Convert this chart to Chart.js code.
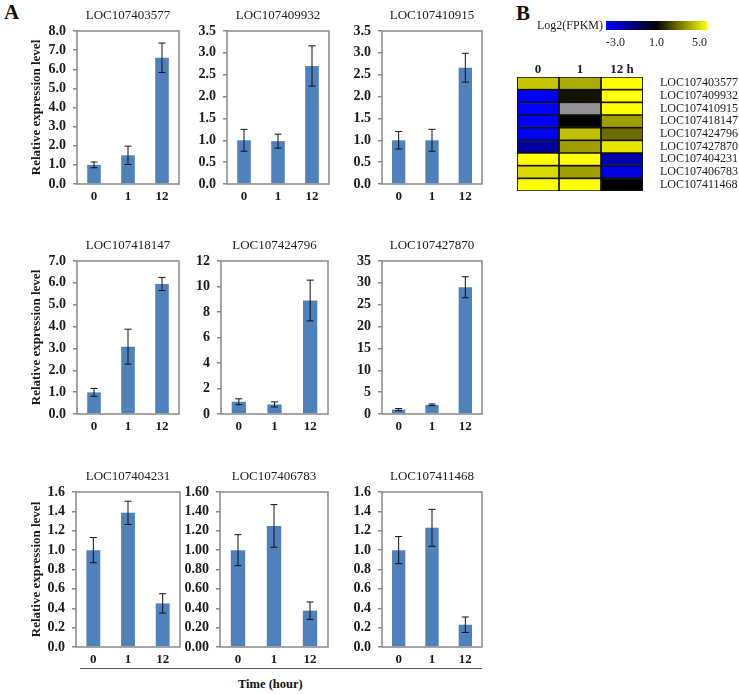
<!DOCTYPE html>
<html><head><meta charset="utf-8">
<script src="https://cdn.jsdelivr.net/npm/chart.js@4.4.0/dist/chart.umd.min.js"></script>
<style>
body{margin:0;background:#fff;width:739px;height:694px;position:relative;overflow:hidden;font-family:'Liberation Serif',serif}
canvas{position:absolute}
.lbl{position:absolute;font-family:'Liberation Serif',serif;color:#111;white-space:nowrap}
</style></head><body>
<div class="lbl" style="left:4px;top:0px;font-size:21px;font-weight:bold">A</div>
<div class="lbl" style="left:516px;top:1px;font-size:21px;font-weight:bold">B</div>
<div style="position:absolute;left:80px;top:668px;width:402px;height:0;border-top:1.5px solid #555"></div>
<div class="lbl" style="left:238px;top:677px;font-size:12.5px;font-weight:bold">Time (hour)</div>
<script>
// ---------------- DATA ----------------
const timeLabels = ['0', '1', '12'];
const geneNames = ['LOC107403577','LOC107409932','LOC107410915','LOC107418147','LOC107424796','LOC107427870','LOC107404231','LOC107406783','LOC107411468'];

const mean403577 = [1.0, 1.5, 6.6];   const err403577 = [0.15, 0.48, 0.77];
const mean409932 = [1.0, 0.98, 2.70]; const err409932 = [0.25, 0.16, 0.46];
const mean410915 = [1.0, 1.0, 2.66];  const err410915 = [0.20, 0.25, 0.33];
const mean418147 = [0.99, 3.08, 5.95];const err418147 = [0.18, 0.80, 0.30];
const mean424796 = [0.96, 0.75, 8.9]; const err424796 = [0.23, 0.20, 1.6];
const mean427870 = [1.0, 2.1, 29.0];  const err427870 = [0.25, 0.2, 2.4];
const mean404231 = [1.0, 1.385, 0.45];const err404231 = [0.13, 0.12, 0.10];
const mean406783 = [1.0, 1.25, 0.375];const err406783 = [0.16, 0.22, 0.09];
const mean411468 = [1.0, 1.23, 0.23]; const err411468 = [0.14, 0.19, 0.08];

const yMaxes   = [8, 3.5, 3.5, 7, 12, 35, 1.6, 1.6, 1.6];
const ySteps   = [1, 0.5, 0.5, 1, 2, 5, 0.2, 0.2, 0.2];
const yDecimals= [1, 1, 1, 1, 0, 0, 1, 2, 1];

// heatmap log2(FPKM); null = missing (grey)
const heatCols = ['0', '1', '12 h'];
const heatRows = geneNames;
const heat0h  = [4.1, -3.0, -3.0, -2.9, -3.0, -1.5, 5.0, 4.4, 5.0];
const heat1h  = [3.7, 1.3, null, 0.95, 4.0, 3.5, 5.0, 3.5, 5.0];
const heat12h = [5.0, 5.0, 5.0, 3.5, 2.7, 4.6, -1.7, -2.5, 1.0];
const scaleTicks = [-3, 1, 5];
const scaleColors = ['#0000ff', '#000000', '#ffff00'];

// ---------------- LAYOUT ----------------
const means = [mean403577, mean409932, mean410915, mean418147, mean424796, mean427870, mean404231, mean406783, mean411468];
const errs  = [err403577, err409932, err410915, err418147, err424796, err427870, err404231, err406783, err411468];
const frames = [
  [77,31,179,184],[227,31,329,184],[382,31,482,184],
  [77,261,179,414],[221,261,328,414],[382,261,482,414],
  [76,492,180,647],[220,492,328,647],[382,492,482,647]];

const SERIF = "'Liberation Serif', 'Times New Roman', serif";
const TXT = '#1a1a1a';
const FRAME = '#878787';

function zeroPad(s) { s.paddingTop = 0; s.paddingBottom = 0; s.paddingLeft = 0; s.paddingRight = 0; }

const framePlugin = {
  id: 'frame',
  afterDatasetsDraw(chart) {
    const a = chart.chartArea, c = chart.ctx;
    c.save(); c.strokeStyle = FRAME; c.lineWidth = 1.5;
    c.strokeRect(a.left, a.top, a.right - a.left, a.bottom - a.top);
    c.restore();
  }
};
const errPlugin = {
  id: 'errbars',
  afterDatasetsDraw(chart) {
    const c = chart.ctx, ys = chart.scales.y;
    chart.data.datasets.forEach((ds, di) => {
      const meta = chart.getDatasetMeta(di);
      meta.data.forEach((el, i) => {
        const m = ds.data[i], e = ds.errors[i];
        const y1 = ys.getPixelForValue(m + e), y2 = ys.getPixelForValue(m - e);
        const x = el.x;
        c.save(); c.strokeStyle = '#111'; c.lineWidth = 1;
        c.beginPath();
        c.moveTo(x, y1); c.lineTo(x, y2);
        c.moveTo(x - 3.5, y1); c.lineTo(x + 3.5, y1);
        c.moveTo(x - 3.5, y2); c.lineTo(x + 3.5, y2);
        c.stroke(); c.restore();
      });
    });
  }
};

function makeBarChart(i) {
  const [fl, ft, fr, fb] = frames[i];
  const col = i % 3;
  const YW = col === 0 ? fl - 25 : 44;
  const cv = document.createElement('canvas');
  const W = YW + (fr - fl) + 4, H = 30 + (fb - ft) + 26;
  cv.width = W; cv.height = H;
  cv.style.left = (fl - YW) + 'px'; cv.style.top = (ft - 30) + 'px';
  cv.style.width = W + 'px'; cv.style.height = H + 'px';
  document.body.appendChild(cv);
  const dec = yDecimals[i];
  new Chart(cv, {
    type: 'bar',
    data: {
      labels: timeLabels,
      datasets: [{ data: means[i], errors: errs[i], backgroundColor: '#4f81bd',
        barPercentage: 0.4, categoryPercentage: 1.0 }]
    },
    options: {
      responsive: false, animation: false, devicePixelRatio: 1,
      layout: { padding: { right: 4 } },
      plugins: {
        legend: { display: false }, tooltip: { enabled: false },
        title: { display: true, text: geneNames[i], fullSize: false, color: TXT,
          font: { family: SERIF, size: 13, weight: 'normal', lineHeight: 1.2 },
          padding: { top: 6.4, bottom: 8 } }
      },
      scales: {
        x: {
          grid: { display: false, drawTicks: false }, border: { display: false },
          ticks: { color: TXT, font: { family: SERIF, size: 13, weight: 'bold' }, padding: 5 },
          afterFit(s) { s.height = 26; }
        },
        y: {
          min: 0, max: yMaxes[i],
          grid: { drawOnChartArea: false, drawTicks: true, tickLength: 4, color: FRAME, lineWidth: 1.5 },
          border: { display: false },
          ticks: { stepSize: ySteps[i], autoSkip: false, color: TXT, padding: 7,
            font: { family: SERIF, size: 14, weight: 'bold' },
            callback: v => Number(v).toFixed(dec) },
          title: { display: col === 0, text: 'Relative expression level', color: TXT,
            font: { family: SERIF, size: 13, weight: 'bold' }, padding: { top: 4, bottom: 0 } },
          afterFit(s) { s.width = YW; }
        }
      }
    },
    plugins: [framePlugin, errPlugin]
  });
}
for (let i = 0; i < 9; i++) makeBarChart(i);

// ---------------- HEATMAP ----------------
function colorFor(v) {
  if (v === null) return '#909090';
  const lo = scaleTicks[0], mid = scaleTicks[1], hi = scaleTicks[2];
  if (v < mid) {
    const k = Math.min(1, (mid - v) / (mid - lo));
    return `rgb(0,0,${Math.round(255 * k)})`;
  }
  const k = Math.min(1, (v - mid) / (hi - mid));
  return `rgb(${Math.round(255 * k)},${Math.round(255 * k)},0)`;
}
(function () {
  const cv = document.createElement('canvas');
  const L = 517, T = 57, W = 739 - 517, H = 136;
  cv.width = W; cv.height = H;
  cv.style.left = L + 'px'; cv.style.top = T + 'px';
  cv.style.width = W + 'px'; cv.style.height = H + 'px';
  document.body.appendChild(cv);
  const cols = [heat0h, heat1h, heat12h];
  new Chart(cv, {
    type: 'bar',
    data: {
      labels: heatRows,
      datasets: cols.map((vals, c) => ({
        data: vals.map(() => [c, c + 1]),
        backgroundColor: vals.map(colorFor),
        borderColor: '#111', borderWidth: 1.2, borderSkipped: false,
        grouped: false, barPercentage: 1, categoryPercentage: 1
      }))
    },
    options: {
      indexAxis: 'y', responsive: false, animation: false, devicePixelRatio: 1,
      layout: { padding: { bottom: 2 } },
      plugins: { legend: { display: false }, tooltip: { enabled: false } },
      scales: {
        x: {
          type: 'linear', position: 'top', min: 0, max: heatCols.length,
          grid: { display: false, drawTicks: false }, border: { display: false },
          afterBuildTicks(s) { s.ticks = heatCols.map((h, k) => ({ value: k + 0.5 })); },
          ticks: { autoSkip: false, padding: 0, color: TXT,
            font: { family: SERIF, size: 13, weight: 'bold' },
            callback: (v, k) => heatCols[k] },
          afterFit(s) { s.height = 20; zeroPad(s); }
        },
        y: {
          position: 'right',
          grid: { display: false, drawTicks: false }, border: { display: false },
          ticks: { autoSkip: false, padding: 17, color: TXT, font: { family: SERIF, size: 12 } },
          afterFit(s) { s.width = 96; zeroPad(s); }
        }
      }
    }
  });
})();

// ---------------- COLOUR SCALE ----------------
(function () {
  const cv = document.createElement('canvas');
  const L = 520, T = 19, W = 739 - 520, H = 33;
  cv.width = W; cv.height = H;
  cv.style.left = L + 'px'; cv.style.top = T + 'px';
  cv.style.width = W + 'px'; cv.style.height = H + 'px';
  document.body.appendChild(cv);
  new Chart(cv, {
    type: 'bar',
    data: {
      labels: ['Log2(FPKM)'],
      datasets: [{
        data: [[scaleTicks[0], scaleTicks[2]]],
        barPercentage: 1, categoryPercentage: 1, borderWidth: 0,
        backgroundColor(ctx) {
          const ch = ctx.chart; if (!ch.chartArea) return '#000';
          const xs = ch.scales.x;
          const g = ch.ctx.createLinearGradient(xs.getPixelForValue(scaleTicks[0]), 0, xs.getPixelForValue(scaleTicks[2]), 0);
          scaleColors.forEach((c, k) => g.addColorStop(k / (scaleColors.length - 1), c));
          return g;
        }
      }]
    },
    options: {
      indexAxis: 'y', responsive: false, animation: false, devicePixelRatio: 1,
      layout: { padding: { top: 2, right: 32 } },
      plugins: { legend: { display: false }, tooltip: { enabled: false } },
      scales: {
        x: {
          type: 'linear', min: scaleTicks[0], max: scaleTicks[2],
          grid: { display: false, drawTicks: false }, border: { display: false },
          afterBuildTicks(s) { s.ticks = scaleTicks.map(v => ({ value: v })); },
          ticks: { align: 'inner', padding: 6, color: TXT, autoSkip: false,
            font: { family: SERIF, size: 12 }, callback: v => Number(v).toFixed(1) },
          afterFit(s) { s.height = 22; zeroPad(s); }
        },
        y: {
          grid: { display: false, drawTicks: false }, border: { display: false },
          ticks: { padding: 3, color: TXT, font: { family: SERIF, size: 12 } },
          afterFit(s) { s.width = 86; zeroPad(s); }
        }
      }
    }
  });
})();
</script>
</body></html>
